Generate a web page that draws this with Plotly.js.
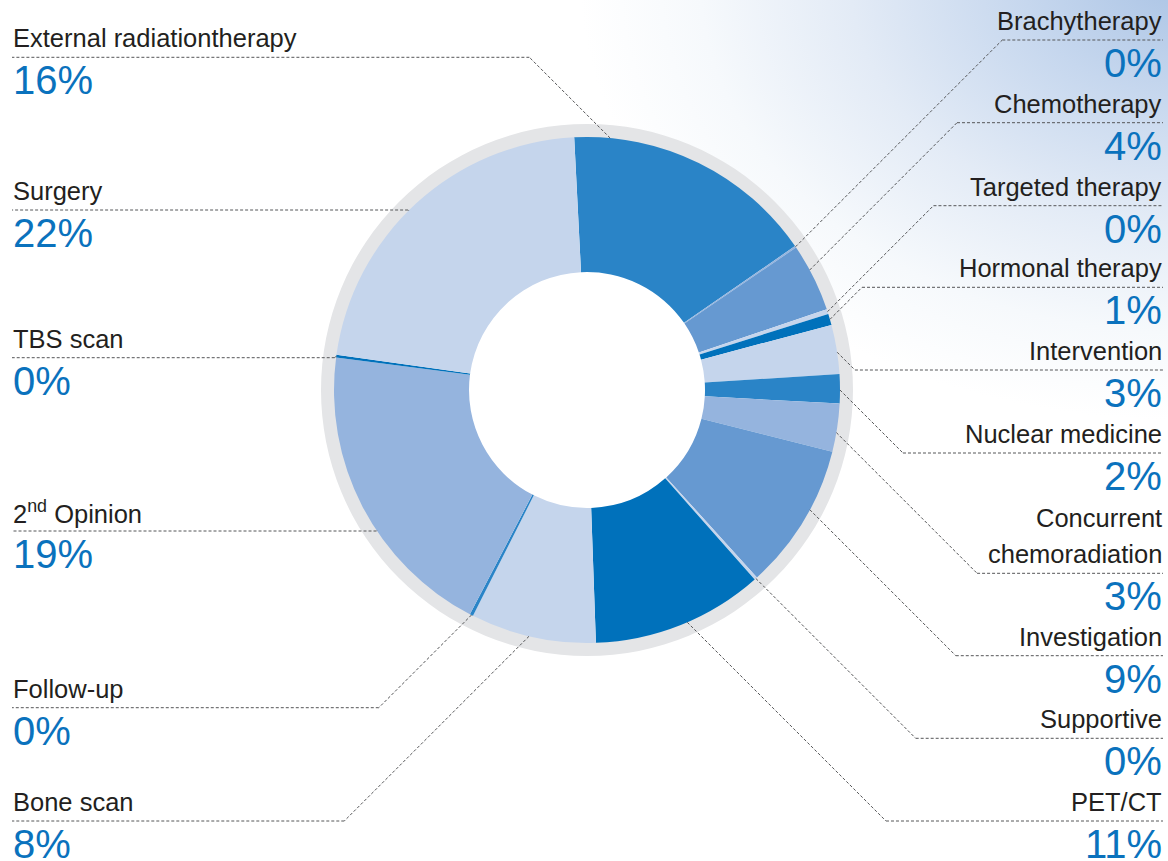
<!DOCTYPE html>
<html>
<head>
<meta charset="utf-8">
<script src="https://cdn.plot.ly/plotly-3.0.1.min.js"></script>
<style>
html,body{margin:0;padding:0;background:#ffffff;}
#chart{width:1168px;height:861px;
  background: radial-gradient(ellipse 600px 440px at 1180px -20px, #abc4e5 0%, #c6d7ee 26%, #e3ebf6 55%, #f6f9fc 80%, #ffffff 100%);}
</style>
</head>
<body>
<div id="chart"></div>
<script>
// ---- data ----
const categories = ["External radiationtherapy","Brachytherapy","Chemotherapy","Targeted therapy","Hormonal therapy","Intervention","Nuclear medicine","Concurrent<br>chemoradiation","Investigation","Supportive","PET/CT","Bone scan","Follow-up","2<sup>nd</sup> Opinion","TBS scan","Surgery"];
const values = [16.17, 0.11, 4.36, 0.30, 0.72, 3.14, 1.86, 3.06, 9.36, 0.19, 10.97, 8.00, 0.22, 19.39, 0.17, 21.97];
const sliceColors = ["#2a84c7","#95b4de","#6699d1","#c5d5ec","#0071bb","#c5d5ec","#2a84c7","#95b4de","#6699d1","#c5d5ec","#0071bb","#c5d5ec","#2a84c7","#95b4de","#0071bb","#c5d5ec"];

// ---- layout (positions / styles) ----
const labelSide  = ["L","R","R","R","R","R","R","R","R","R","R","L","L","L","L","L"];
const labelLineY = [57.3, 40, 122.7, 205.7, 287.3, 370, 453, 573.3, 655.7, 738.3, 821, 821, 707.7, 531, 357.7, 210];
const anchorFrac = [0.14, 0.5, 0.38, 0.5, 0.5, 0.56, 0.54, 0.6, 0.42, 0.5, 0.46, 0.53, 0.5, 0.41, 0.5, 0.47];

const W = 1168, H = 861;
const CX = 587, CY = 390, R_OUT = 253, R_RING = 266, R_IN = 118;
const ROT = -2.9;
const LEFT_X = 12, RIGHT_X = 1163;
const nameColor = "#231f20", pctColor = "#0a72bd";
const nameFont = "Liberation Sans, Arial, sans-serif";

const px = x => x / W;
const py = y => 1 - y / H;

function domainFor(r) {
  return { x: [px(CX - r), px(CX + r)], y: [py(CY + r), py(CY - r)] };
}

const ring = {
  type: "pie", values: [1], labels: ["ring"], sort: false,
  marker: { colors: ["#e4e5e7"], line: { width: 0 } },
  hole: (R_OUT - 1) / R_RING, domain: domainFor(R_RING),
  textinfo: "none", hoverinfo: "skip", showlegend: false
};

const donut = {
  type: "pie", values: values, labels: categories, sort: false,
  direction: "clockwise", rotation: ROT,
  marker: { colors: sliceColors, line: { width: 0 } },
  hole: R_IN / R_OUT, domain: domainFor(R_OUT),
  textinfo: "none", hoverinfo: "label+percent", showlegend: false
};

// leader lines and labels, computed from the slice angles
const total = values.reduce((a, b) => a + b, 0);
const shapes = [], annotations = [];
const lineStyle = { color: "#555658", width: 1, dash: "3px,2px" };
let cum = 0;
values.forEach((v, i) => {
  const a0 = ROT + cum / total * 360;
  cum += v;
  const a1 = ROT + cum / total * 360;
  const th = (a0 + anchorFrac[i] * (a1 - a0)) * Math.PI / 180;
  const ax = CX + R_OUT * Math.sin(th);
  const ay = CY - R_OUT * Math.cos(th);
  const L = labelLineY[i];
  const right = labelSide[i] === "R";
  const ex = right ? ax + Math.abs(L - ay) : ax - Math.abs(L - ay);
  const endX = right ? RIGHT_X : LEFT_X;
  shapes.push({ type: "line", xref: "paper", yref: "paper", x0: px(ax), y0: py(ay), x1: px(ex), y1: py(L), line: lineStyle });
  shapes.push({ type: "line", xref: "paper", yref: "paper", x0: px(ex), y0: py(L), x1: px(endX), y1: py(L), line: lineStyle });

  const tx = right ? RIGHT_X + 1 : LEFT_X - 1;
  const xa = right ? "right" : "left";
  const parts = categories[i].split("<br>");
  parts.reverse().forEach((t, k) => {
    annotations.push({ xref: "paper", yref: "paper", x: px(tx), y: py(L - 19 - k * 36.5),
      xanchor: xa, yanchor: "middle", showarrow: false, text: t,
      font: { family: nameFont, size: 25.5, color: nameColor } });
  });
  annotations.push({ xref: "paper", yref: "paper", x: px(tx), y: py(L + 23),
    xanchor: xa, yanchor: "middle", showarrow: false, text: Math.round(v) + "%",
    font: { family: nameFont, size: 40, color: pctColor } });
});

const layout = {
  width: W, height: H,
  margin: { l: 0, r: 0, t: 0, b: 0, pad: 0 },
  paper_bgcolor: "rgba(0,0,0,0)", plot_bgcolor: "rgba(0,0,0,0)",
  showlegend: false, shapes: shapes, annotations: annotations
};

Plotly.newPlot("chart", [ring, donut], layout, { displayModeBar: false, staticPlot: true });
</script>
</body>
</html>
